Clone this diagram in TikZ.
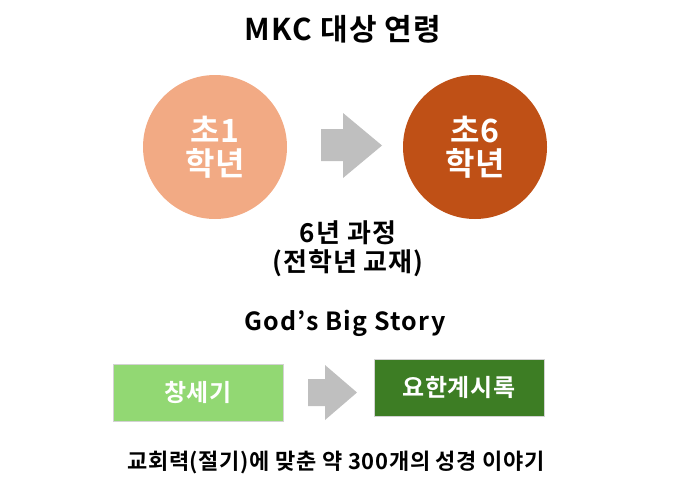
\documentclass[tikz,border=0pt]{standalone}
\usepackage{fontspec}
\setmainfont{Noto Sans CJK KR}[BoldFont={* Bold}]
\usetikzlibrary{shapes.arrows}
\definecolor{peach}{RGB}{242,170,132}
\definecolor{rust}{RGB}{191,80,22}
\definecolor{arrowgray}{RGB}{191,191,191}
\definecolor{lgreen}{RGB}{146,216,115}
\definecolor{dgreen}{RGB}{61,125,36}
\definecolor{boxborder}{RGB}{210,210,210}
\newcommand{\ls}[1]{\addfontfeatures{LetterSpace=#1}}
\begin{document}
\begin{tikzpicture}[x=1pt,y=-1pt,
  circ/.style={circle,minimum size=144pt,inner sep=0pt,text=white,font=\bfseries\fontsize{32}{36}\selectfont,align=center},
  lbl/.style={align=center,text=black},
  boxn/.style={draw=boxborder,line width=1pt,minimum width=170pt,minimum height=57pt,inner sep=0pt,text=white,font=\bfseries\fontsize{24}{26}\selectfont\ls{3}},
  garrow/.style={fill=arrowgray,draw=none}]
\useasboundingbox (0,0) rectangle (690,498);
\node[lbl,font=\bfseries\fontsize{30}{34}\selectfont\ls{4}] (title) at (343,29) {MKC 대상 연령};
\node[circ,fill=peach] (c1) at (215,147) {초1\\[-3pt]학년};
\node[circ,fill=rust] (c6) at (475,147) {초6\\[-3pt]학년};
\fill[garrow] (321,129) -- (343,129) -- (343,113) -- (382,145.5) -- (343,178) -- (343,161) -- (321,161) -- cycle;
\node[lbl,font=\bfseries\fontsize{26}{29}\selectfont\ls{4}] (course) at (348,249) {6년 과정\\(전학년 교재)};
\node[lbl,font=\bfseries\fontsize{25}{28}\selectfont\ls{5}] (gbs) at (345,323) {God’s Big Story};
\node[boxn,fill=lgreen] (gen) at (198,392.5) {창세기};
\node[boxn,fill=dgreen] (rev) at (459,387.5) {요한계시록};
\fill[garrow] (308,379) -- (325,379) -- (325,365) -- (357,392.5) -- (325,420) -- (325,406) -- (308,406) -- cycle;
\node[lbl,font=\bfseries\fontsize{22}{26}\selectfont\ls{3}] (bottom) at (336,462) {교회력(절기)에 맞춘 약 300개의 성경 이야기};
\end{tikzpicture}
\end{document}
